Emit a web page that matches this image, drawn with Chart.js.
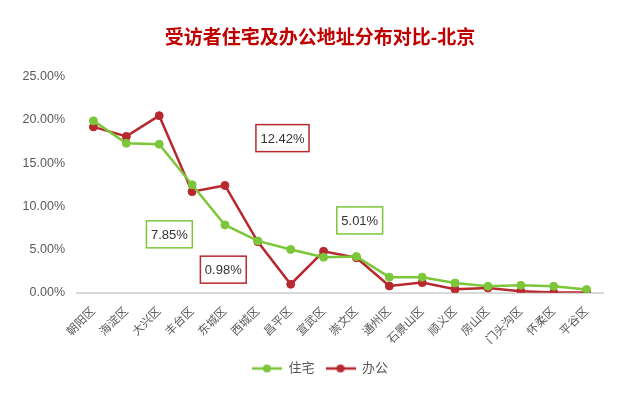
<!DOCTYPE html>
<html>
<head>
<meta charset="utf-8">
<script src="https://cdn.jsdelivr.net/npm/chart.js@4"></script>
<style>
  html, body { margin: 0; padding: 0; background: #fff; }
  canvas { display: block; }
</style>
</head>
<body>
<canvas id="chart" width="640" height="402"></canvas>
<script>
var categories = ['朝阳区', '海淀区', '大兴区', '丰台区', '东城区', '西城区', '昌平区', '宣武区',
  '崇文区', '通州区', '石景山区', '顺义区', '房山区', '门头沟区', '怀柔区', '平谷区']
var homeValues = [19.9, 17.3, 17.2, 12.5, 7.85, 6.0, 5.01, 4.1, 4.2, 1.8, 1.8, 1.13, 0.75, 0.86, 0.75, 0.37]
var officeValues = [19.2, 18.1, 20.5, 11.7, 12.42, 5.9, 0.98, 4.8, 4.05, 0.78, 1.17, 0.4, 0.55, 0.17, 0.02, 0.02]
var yTicks = [0, 5, 10, 15, 20, 25]

var green = '#7cc63a', red = '#b8292f'
var fontFamily = "'Liberation Sans', 'Noto Sans CJK SC', sans-serif"

// callout boxes: text, colour, and where they sit (category index, value)
var callouts = [
  {text: '12.42%', color: red, at: [5.75, 17.9]},
  {text: '7.85%', color: green, at: [2.31, 6.76]},
  {text: '0.98%', color: red, at: [3.95, 2.67]},
  {text: '5.01%', color: green, at: [8.1, 8.37]}
]

function legendIcon(color) {
  var c = document.createElement('canvas')
  c.width = 30; c.height = 10
  var g = c.getContext('2d')
  g.strokeStyle = color; g.lineWidth = 2.5
  g.beginPath(); g.moveTo(0, 5); g.lineTo(30, 5); g.stroke()
  g.fillStyle = color
  g.beginPath(); g.arc(15, 5, 4, 0, Math.PI * 2); g.fill()
  return c
}

var calloutPlugin = {
  id: 'callouts',
  afterDatasetsDraw: function (chart) {
    var ctx = chart.ctx, xs = chart.scales.x, ys = chart.scales.y
    ctx.save()
    ctx.font = '13px ' + fontFamily
    callouts.forEach(function (c) {
      var cx = xs.getPixelForValue(c.at[0]), cy = ys.getPixelForValue(c.at[1])
      var w = ctx.measureText(c.text).width + 9, h = 27
      ctx.fillStyle = '#fff'
      ctx.fillRect(cx - w / 2, cy - h / 2, w, h)
      ctx.strokeStyle = c.color; ctx.lineWidth = 1.5
      ctx.strokeRect(cx - w / 2, cy - h / 2, w, h)
      ctx.fillStyle = '#333'
      ctx.textAlign = 'center'; ctx.textBaseline = 'middle'
      ctx.fillText(c.text, cx, cy + 1)
    })
    ctx.restore()
  }
}

var ctx = document.getElementById('chart').getContext('2d')
new Chart(ctx, {
  type: 'line',
  data: {
    labels: categories,
    datasets: [{
      label: '住宅',
      data: homeValues,
      borderColor: green,
      backgroundColor: green,
      borderWidth: 2.5,
      pointRadius: 4,
      pointBorderWidth: 1,
      tension: 0
    }, {
      label: '办公',
      data: officeValues,
      borderColor: red,
      backgroundColor: red,
      borderWidth: 2.5,
      pointRadius: 4,
      pointBorderWidth: 1,
      tension: 0
    }]
  },
  options: {
    responsive: false,
    animation: false,
    devicePixelRatio: 1,
    layout: {padding: {left: 0, right: 0, top: 0, bottom: 17}},
    scales: {
      x: {
        offset: true,
        grid: {display: false},
        border: {display: true, color: '#d9d9d9', width: 2},
        ticks: {
          minRotation: 45, maxRotation: 45, autoSkip: false, padding: 4,
          color: '#595959', font: {family: fontFamily, size: 11.5}
        }
      },
      y: {
        min: 0, max: 25,
        afterFit: function (s) { s.width = 77 },
        afterBuildTicks: function (s) { s.ticks = yTicks.map(function (v) { return {value: v} }) },
        grid: {display: false},
        border: {display: false},
        ticks: {
          padding: 4,
          color: '#595959', font: {family: fontFamily, size: 12.5},
          callback: function (v) { return v.toFixed(2) + '%' }
        }
      },
      // empty right-hand spacer so the title centres on the whole canvas
      yRight: {
        position: 'right',
        afterFit: function (s) { s.width = 37 },
        grid: {display: false},
        border: {display: false},
        ticks: {display: false}
      }
    },
    plugins: {
      title: {
        display: true,
        text: '受访者住宅及办公地址分布对比-北京',
        color: '#c00000',
        font: {family: fontFamily, size: 19, weight: 'bold'},
        padding: {top: 27, bottom: 27}
      },
      legend: {
        position: 'bottom',
        labels: {
          usePointStyle: true,
          pointStyleWidth: 30,
          color: '#595959',
          font: {family: fontFamily, size: 13},
          padding: 11,
          generateLabels: function (chart) {
            return chart.data.datasets.map(function (ds, i) {
              return {text: ds.label, pointStyle: legendIcon(ds.borderColor), fontColor: '#595959',
                lineWidth: 0, strokeStyle: 'transparent', fillStyle: ds.borderColor, datasetIndex: i}
            })
          }
        }
      },
      tooltip: {enabled: false}
    }
  },
  plugins: [calloutPlugin]
})
</script>
</body>
</html>
